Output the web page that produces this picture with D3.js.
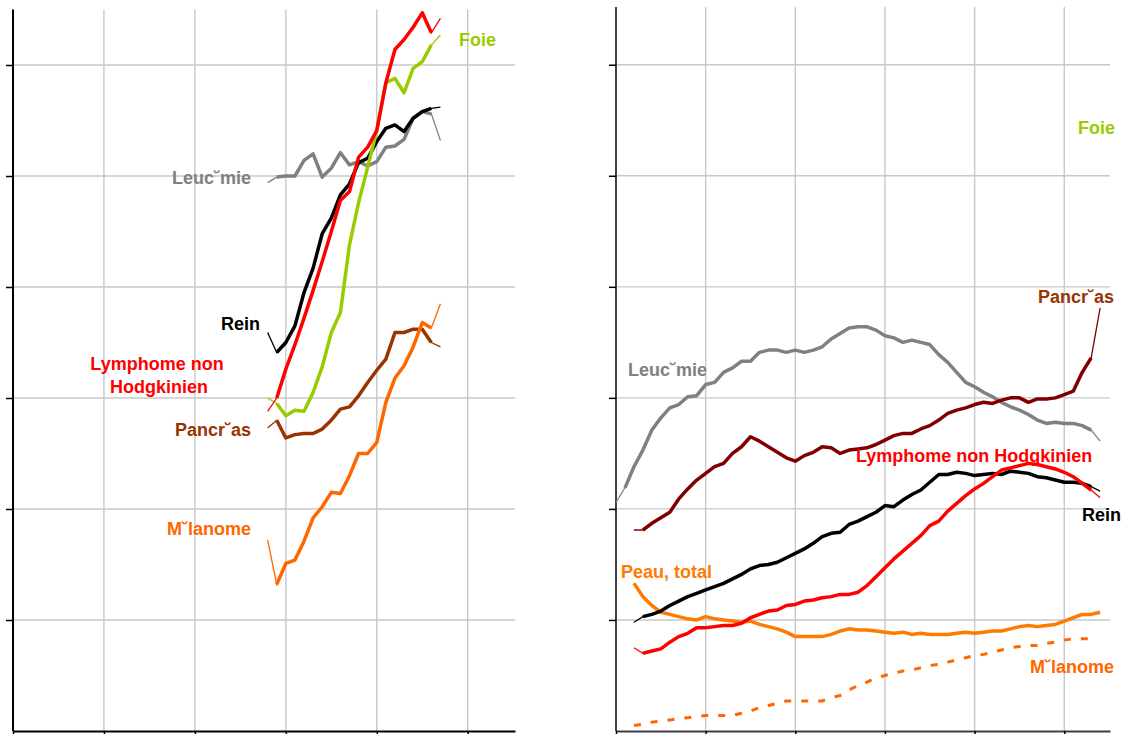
<!DOCTYPE html>
<html><head><meta charset="utf-8">
<script src="https://cdn.jsdelivr.net/npm/d3@7"></script>
<style>
html,body{margin:0;padding:0;background:#fff;}
svg{display:block;font-family:"Liberation Sans",Arial,sans-serif;font-weight:bold;}
</style></head>
<body>
<svg id="chart" width="1124" height="734"></svg>
<script>
// ---------- data ----------
const leftYears = d3.range(1978, 1998);       // 1978..1997
const rightYears = d3.range(1950, 2005);      // 1950..2004

const leftLymphome = [2.88,3.00,3.26,3.48,3.72,3.97,4.23,4.50,4.78,4.86,5.17,5.26,5.41,5.84,6.14,6.23,6.34,6.47,6.29,6.42];
const leftFoie     = [3.00,2.95,2.84,2.89,2.88,3.05,3.28,3.59,3.77,4.38,4.76,5.08,5.41,5.84,5.88,5.75,5.97,6.03,6.18,6.27];
const leftRein     = [3.59,3.41,3.50,3.65,3.95,4.17,4.48,4.62,4.83,4.93,5.12,5.16,5.31,5.43,5.46,5.40,5.52,5.58,5.61,5.62];
const leftLeucemie = [4.94,4.99,5.00,5.00,5.14,5.20,4.99,5.07,5.21,5.10,5.13,5.09,5.13,5.26,5.27,5.33,5.52,5.58,5.56,5.32];
const leftPancreas = [2.73,2.80,2.64,2.67,2.68,2.68,2.72,2.80,2.90,2.92,3.02,3.14,3.25,3.35,3.59,3.59,3.62,3.62,3.50,3.46];
const leftMelanome = [1.72,1.32,1.51,1.54,1.71,1.92,2.02,2.15,2.14,2.30,2.50,2.50,2.60,2.96,3.18,3.29,3.46,3.68,3.63,3.85];

// right panel (Leucémie from 1950, others from 1952)
const rightLeucemie = [2.06,2.19,2.38,2.53,2.71,2.82,2.91,2.94,3.01,3.02,3.12,3.14,3.23,3.27,3.33,3.33,3.41,3.43,3.43,3.41,
  3.43,3.41,3.43,3.46,3.53,3.58,3.63,3.64,3.64,3.61,3.56,3.54,3.50,3.52,3.50,3.48,3.39,3.32,3.23,3.14,
  3.10,3.05,3.01,2.96,2.92,2.89,2.85,2.80,2.77,2.78,2.77,2.77,2.75,2.71,2.61];
const rightPancreas = [1.81,1.81,1.87,1.92,1.97,2.09,2.18,2.26,2.32,2.38,2.41,2.50,2.56,2.65,2.61,2.56,2.51,2.46,2.43,2.48,
  2.51,2.56,2.55,2.50,2.53,2.54,2.55,2.58,2.62,2.66,2.68,2.68,2.72,2.75,2.80,2.86,2.89,2.91,2.94,2.96,
  2.95,2.98,3.00,3.00,2.96,2.99,2.99,3.00,3.03,3.06,3.23,3.36,3.81];
const rightRein = [0.98,1.03,1.05,1.08,1.13,1.17,1.21,1.24,1.27,1.30,1.33,1.37,1.41,1.46,1.49,1.50,1.52,1.56,1.60,1.64,
  1.69,1.75,1.78,1.79,1.86,1.89,1.93,1.97,2.03,2.02,2.08,2.13,2.17,2.24,2.31,2.31,2.33,2.32,2.30,2.31,
  2.32,2.31,2.34,2.33,2.32,2.29,2.28,2.26,2.24,2.24,2.23,2.20,2.16];
const rightLymphome = [0.75,0.70,0.72,0.74,0.80,0.85,0.88,0.93,0.93,0.94,0.95,0.95,0.97,1.02,1.05,1.08,1.09,1.13,1.14,1.17,
  1.18,1.20,1.21,1.23,1.23,1.25,1.31,1.39,1.47,1.55,1.62,1.69,1.76,1.85,1.89,1.98,2.05,2.12,2.18,2.23,
  2.29,2.35,2.37,2.39,2.41,2.40,2.38,2.36,2.33,2.29,2.23,2.17,2.10];
const rightPeau = [1.33,1.21,1.13,1.07,1.05,1.03,1.01,1.00,1.03,1.01,1.00,0.99,0.98,0.99,0.96,0.94,0.92,0.89,0.85,0.85,
  0.85,0.85,0.87,0.90,0.92,0.91,0.91,0.90,0.89,0.88,0.89,0.87,0.88,0.87,0.87,0.87,0.88,0.89,0.88,0.89,
  0.90,0.90,0.92,0.94,0.95,0.94,0.95,0.96,0.99,1.02,1.05,1.05,1.07];
const rightMelanome = [0.05,0.06,0.08,0.09,0.10,0.11,0.12,0.13,0.14,0.14,0.14,0.14,0.16,0.18,0.21,0.23,0.25,0.27,0.27,0.27,
  0.27,0.27,0.30,0.32,0.37,0.41,0.44,0.48,0.50,0.52,0.54,0.55,0.57,0.59,0.60,0.62,0.64,0.66,0.68,0.69,
  0.71,0.73,0.75,0.76,0.77,0.77,0.79,0.80,0.82,0.83,0.83,0.83];

const gridValues = [1,2,3,4,5,6];
const gridYears = [1960,1970,1980,1990,2000];

const COL = {red:"#ff0000", green:"#99cc00", black:"#000000", gray:"#808080",
             brown:"#993300", darkred:"#800000", orange:"#ff6600", peau:"#ff7a00"};

// ---------- panels ----------
const svg = d3.select("#chart");

const panels = [
  {
    x: d3.scaleLinear([1950, 2005.2], [13, 515]),
    y: d3.scaleLinear([0, 6.5], [731, 9.5]),
    axisColor: "#000",
    series: [
      {years: leftYears, values: leftLeucemie, color: COL.gray, thin: true},
      {years: leftYears, values: leftPancreas, color: COL.brown, thin: true},
      {years: leftYears, values: leftMelanome, color: COL.orange, thin: true},
      {years: leftYears, values: leftRein, color: COL.black, thin: true},
      {years: leftYears, values: leftFoie, color: COL.green, thin: true},
      {years: leftYears, values: leftLymphome, color: COL.red, thin: true}
    ],
    labels: [
      {text:"Foie", x:459, y:46, anchor:"start", color:COL.green},
      {text:"Leuc˘mie", x:251, y:184, anchor:"end", color:COL.gray},
      {text:"Rein", x:221, y:330, anchor:"start", color:COL.black},
      {text:"Lymphome non", x:157, y:370, anchor:"middle", color:COL.red},
      {text:"Hodgkinien", x:159, y:393, anchor:"middle", color:COL.red},
      {text:"Pancr˘as", x:251, y:436, anchor:"end", color:COL.brown},
      {text:"M˘lanome", x:251, y:535, anchor:"end", color:COL.orange}
    ]
  },
  {
    x: d3.scaleLinear([1950, 2005.1], [616, 1110]),
    y: d3.scaleLinear([0, 6.52], [731, 7]),
    axisColor: "#404040",
    series: [
      {years: rightYears.slice(2, 54), values: rightMelanome, color: COL.orange, dash: "7,10"},
      {years: rightYears.slice(2), values: rightPeau, color: COL.peau},
      {years: rightYears, values: rightLeucemie, color: COL.gray, thin: true},
      {years: rightYears.slice(2), values: rightPancreas, color: COL.darkred, thin: true},
      {years: rightYears.slice(2), values: rightRein, color: COL.black, thin: true},
      {years: rightYears.slice(2), values: rightLymphome, color: COL.red, thin: true}
    ],
    labels: [
      {text:"Foie", x:1078, y:134, anchor:"start", color:COL.green},
      {text:"Pancr˘as", x:1114, y:303, anchor:"end", color:COL.brown},
      {text:"Leuc˘mie", x:628, y:376, anchor:"start", color:COL.gray},
      {text:"Lymphome non Hodgkinien", x:856, y:462, anchor:"start", color:COL.red},
      {text:"Rein", x:1082, y:521, anchor:"start", color:COL.black},
      {text:"Peau, total", x:621, y:578, anchor:"start", color:COL.peau},
      {text:"M˘lanome", x:1114, y:673, anchor:"end", color:COL.orange}
    ]
  }
];

panels.forEach(p => {
  const g = svg.append("g");
  const [x0, x1] = p.x.range();
  const [yb, yt] = p.y.range();

  // gridlines
  g.selectAll(".hg").data(gridValues).join("line")
    .attr("x1", x0).attr("x2", x1)
    .attr("y1", d => p.y(d)).attr("y2", d => p.y(d))
    .attr("stroke", "#c8c8c8").attr("stroke-width", 1.4);
  g.selectAll(".vg").data(gridYears).join("line")
    .attr("y1", yt).attr("y2", yb)
    .attr("x1", d => p.x(d)).attr("x2", d => p.x(d))
    .attr("stroke", "#c8c8c8").attr("stroke-width", 1.4);

  // axes
  const ya = g.append("g").attr("transform", `translate(${x0},0)`)
    .call(d3.axisLeft(p.y).tickValues(gridValues).tickSize(7).tickSizeOuter(0).tickFormat(""));
  ya.select(".domain").attr("stroke", p.axisColor).attr("stroke-width", 2)
    .attr("d", `M0,${yt}V${yb}`);
  ya.selectAll(".tick line").attr("stroke", "#000").attr("stroke-width", 1.5);

  const xa = g.append("g").attr("transform", `translate(0,${yb})`)
    .call(d3.axisBottom(p.x).tickValues([1950].concat(gridYears)).tickSize(7).tickSizeOuter(0).tickFormat(""));
  xa.select(".domain").attr("stroke", p.axisColor).attr("stroke-width", 2);
  xa.selectAll(".tick line").attr("stroke", "#000").attr("stroke-width", 1.5);

  // series
  const line = d3.line().x(d => p.x(d[0])).y(d => p.y(d[1]));
  p.series.forEach(s => {
    const pts = s.years.map((yr, i) => [yr, s.values[i]]);
    if (s.thin) {
      g.append("path").attr("d", line(pts)).attr("fill", "none")
        .attr("stroke", s.color).attr("stroke-width", 1.3);
      g.append("path").attr("d", line(pts.slice(1, pts.length - 1))).attr("fill", "none")
        .attr("stroke", s.color).attr("stroke-width", 3.5).attr("stroke-linejoin", "round");
    } else {
      g.append("path").attr("d", line(pts)).attr("fill", "none")
        .attr("stroke", s.color).attr("stroke-width", s.dash ? 3 : 3.5)
        .attr("stroke-dasharray", s.dash || null).attr("stroke-linejoin", "round");
    }
  });

  // labels
  g.selectAll(".lbl").data(p.labels).join("text")
    .attr("x", d => d.x).attr("y", d => d.y)
    .attr("text-anchor", d => d.anchor)
    .attr("fill", d => d.color)
    .attr("font-size", 18)
    .text(d => d.text);
});
</script>
</body></html>
